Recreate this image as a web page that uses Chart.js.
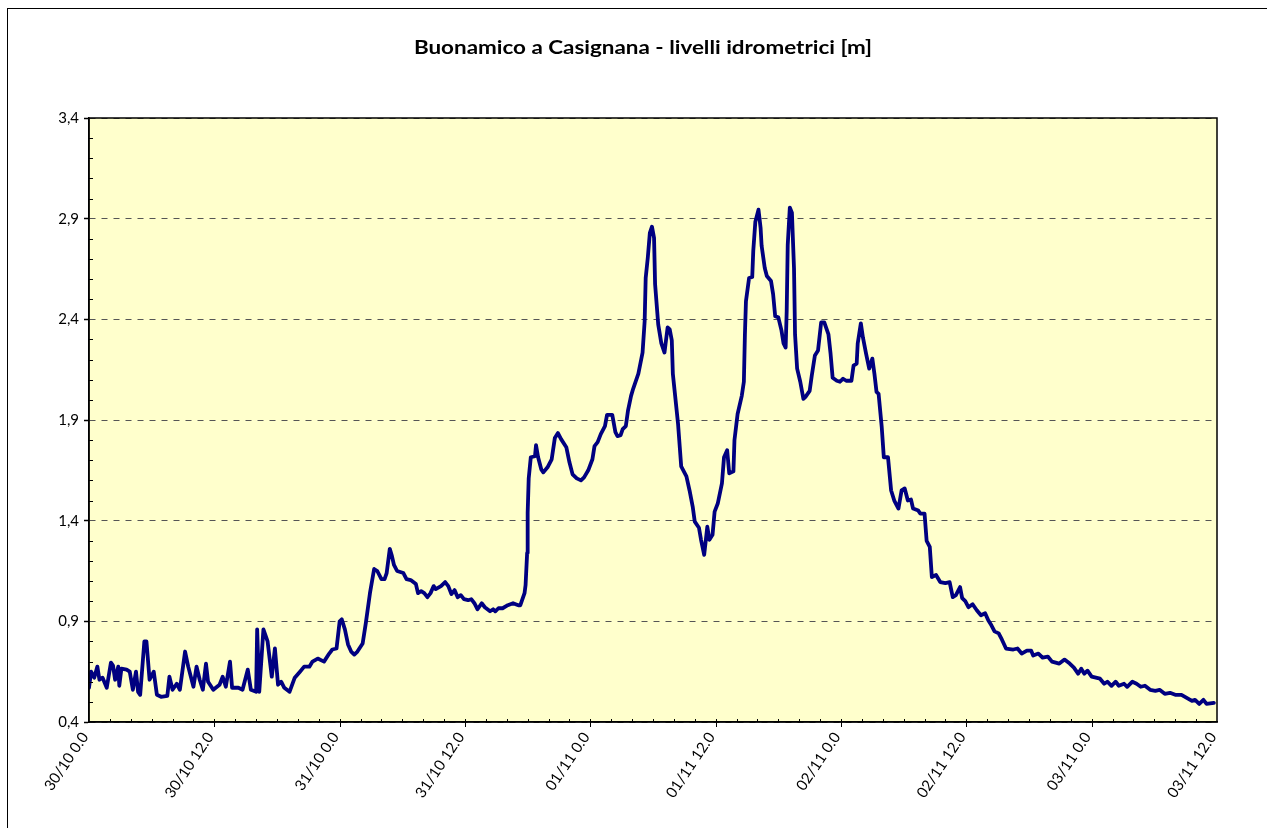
<!DOCTYPE html>
<html>
<head>
<meta charset="utf-8">
<title>Buonamico a Casignana</title>
<script src="https://cdn.jsdelivr.net/npm/chart.js@4"></script>
<style>
  html, body { margin: 0; padding: 0; background: #fff; }
  #levelChart { display: block; }
</style>
</head>
<body>
<canvas id="levelChart" width="1267" height="828"></canvas>
<script>
const chartTitle = "Buonamico a Casignana - livelli idrometrici [m]";

// one label every 12 hours, starting 30/10 at midnight
const tickLabels = [
  "30/10 0.0", "30/10 12.0", "31/10 0.0", "31/10 12.0", "01/11 0.0",
  "01/11 12.0", "02/11 0.0", "02/11 12.0", "03/11 0.0", "03/11 12.0"
];

// hours since 30/10 00:00
const hours = [
  0.0, 0.2, 0.5, 0.8, 1.0, 1.3, 1.7, 2.1, 2.3, 2.5, 2.8, 2.9, 3.1, 3.6, 3.9,
  4.2, 4.5, 4.7, 4.9, 5.3, 5.5, 5.8, 6.2, 6.5, 6.9, 7.5, 7.7, 8.0, 8.4, 8.7,
  9.2, 9.5, 10.0, 10.3, 10.6, 10.9, 11.2, 11.4, 11.9, 12.5, 12.8, 13.1, 13.5, 13.7, 14.3,
  14.7, 15.2, 15.5, 16.0, 16.1, 16.3, 16.7, 17.1, 17.5, 17.8, 18.1, 18.4, 18.7, 19.2, 19.7,
  20.2, 20.6, 21.1, 21.4, 21.9, 22.5, 23.0, 23.3, 23.7, 24.0, 24.2, 24.5, 24.8, 25.1, 25.4,
  25.7, 26.2, 26.5, 26.9, 27.3, 27.6, 28.0, 28.3, 28.5, 28.8, 29.0, 29.2, 29.5, 30.1, 30.4,
  30.8, 31.3, 31.5, 31.8, 32.1, 32.4, 32.7, 33.0, 33.2, 33.7, 34.1, 34.4, 34.7, 35.0, 35.3,
  35.6, 35.9, 36.3, 36.6, 36.9, 37.2, 37.6, 37.9, 38.4, 38.7, 38.9, 39.2, 39.6, 40.1, 40.6,
  41.1, 41.3, 41.7, 41.8, 41.95, 42.0, 42.1, 42.3, 42.7, 42.8, 43.0, 43.3, 43.5, 43.9, 44.3,
  44.6, 44.9, 45.2, 45.7, 46.0, 46.3, 46.7, 47.1, 47.4, 47.8, 48.2, 48.4, 48.7, 49.0, 49.4,
  49.6, 50.1, 50.4, 50.6, 50.9, 51.1, 51.4, 51.6, 51.9, 52.1, 52.6, 53.0, 53.2, 53.3, 53.5,
  53.7, 53.9, 54.1, 54.2, 54.5, 54.8, 55.1, 55.4, 55.6, 55.8, 55.9, 56.4, 56.7, 57.2, 57.5,
  57.8, 58.0, 58.4, 58.6, 58.9, 59.2, 59.4, 59.7, 59.9, 60.2, 60.6, 60.8, 61.1, 61.3, 61.7,
  61.8, 62.1, 62.5, 62.7, 62.8, 62.9, 63.2, 63.5, 63.6, 63.8, 64.1, 64.3, 64.4, 64.7, 64.9,
  65.3, 65.5, 65.7, 66.0, 66.3, 66.5, 66.7, 66.8, 66.9, 67.1, 67.3, 67.5, 67.6, 67.8, 68.1,
  68.4, 68.6, 69.0, 69.2, 69.5, 69.8, 70.1, 70.4, 70.8, 71.0, 71.2, 71.6, 71.9, 72.2, 72.5,
  73.0, 73.2, 73.5, 73.6, 73.9, 74.1, 74.4, 74.7, 75.0, 75.2, 75.4, 75.6, 75.9, 76.1, 76.5,
  76.8, 77.1, 77.5, 77.8, 78.1, 78.4, 78.7, 78.9, 79.4, 79.6, 80.0, 80.2, 80.5, 80.7, 81.1,
  81.5, 82.0, 82.4, 82.7, 83.0, 83.4, 83.6, 83.9, 84.2, 84.6, 85.0, 85.4, 85.8, 86.1, 86.4,
  86.7, 87.1, 87.4, 87.8, 88.5, 88.9, 89.3, 89.8, 90.2, 90.4, 90.9, 91.3, 91.8, 92.2, 92.9,
  93.4, 93.9, 94.3, 94.7, 95.0, 95.3, 95.6, 96.0, 96.8, 97.2, 97.5, 97.9, 98.3, 98.6, 99.1,
  99.4, 99.9, 100.3, 100.7, 101.1, 101.6, 102.1, 102.5, 103.0, 103.5, 104.0, 104.6, 105.1, 105.6, 105.9,
  106.3, 106.7, 107.0, 107.7
];

// water level [m]
const levels = [
  0.57, 0.65, 0.62, 0.675, 0.61, 0.62, 0.57, 0.695, 0.68, 0.61, 0.675, 0.58, 0.665, 0.66, 0.65,
  0.56, 0.65, 0.55, 0.535, 0.80, 0.80, 0.61, 0.65, 0.535, 0.525, 0.53, 0.625, 0.56, 0.59, 0.56,
  0.75, 0.675, 0.575, 0.675, 0.61, 0.56, 0.69, 0.60, 0.56, 0.585, 0.625, 0.575, 0.70, 0.57, 0.57,
  0.56, 0.66, 0.56, 0.55, 0.86, 0.55, 0.86, 0.80, 0.625, 0.765, 0.585, 0.60, 0.57, 0.55, 0.62,
  0.65, 0.675, 0.675, 0.70, 0.715, 0.70, 0.74, 0.76, 0.765, 0.90, 0.91, 0.86, 0.785, 0.75, 0.735,
  0.75, 0.79, 0.89, 1.04, 1.16, 1.15, 1.11, 1.11, 1.14, 1.26, 1.225, 1.18, 1.15, 1.14, 1.11,
  1.105, 1.085, 1.04, 1.05, 1.04, 1.02, 1.04, 1.075, 1.06, 1.075, 1.095, 1.075, 1.035, 1.055, 1.02,
  1.03, 1.01, 1.005, 1.01, 0.99, 0.96, 0.99, 0.97, 0.95, 0.96, 0.95, 0.965, 0.965, 0.98, 0.99,
  0.98, 0.98, 1.04, 1.08, 1.24, 1.44, 1.61, 1.715, 1.72, 1.775, 1.715, 1.655, 1.64, 1.665, 1.705,
  1.81, 1.835, 1.805, 1.765, 1.69, 1.63, 1.61, 1.60, 1.615, 1.65, 1.705, 1.77, 1.79, 1.83, 1.87,
  1.925, 1.925, 1.84, 1.82, 1.825, 1.855, 1.87, 1.945, 2.02, 2.055, 2.13, 2.235, 2.39, 2.605, 2.705,
  2.83, 2.86, 2.805, 2.575, 2.375, 2.28, 2.235, 2.36, 2.35, 2.295, 2.13, 1.88, 1.67, 1.62, 1.55,
  1.47, 1.395, 1.365, 1.305, 1.23, 1.37, 1.305, 1.33, 1.445, 1.485, 1.585, 1.715, 1.75, 1.635, 1.645,
  1.80, 1.93, 2.02, 2.09, 2.325, 2.49, 2.605, 2.61, 2.74, 2.885, 2.945, 2.855, 2.765, 2.655, 2.615,
  2.59, 2.525, 2.415, 2.41, 2.345, 2.28, 2.26, 2.44, 2.77, 2.955, 2.93, 2.655, 2.325, 2.155, 2.09,
  2.005, 2.015, 2.045, 2.12, 2.22, 2.245, 2.385, 2.385, 2.325, 2.23, 2.11, 2.095, 2.09, 2.105, 2.095,
  2.095, 2.17, 2.18, 2.28, 2.38, 2.31, 2.23, 2.155, 2.205, 2.13, 2.04, 2.03, 1.865, 1.715, 1.715,
  1.55, 1.50, 1.46, 1.55, 1.56, 1.50, 1.505, 1.46, 1.45, 1.435, 1.435, 1.30, 1.27, 1.12, 1.13,
  1.095, 1.09, 1.095, 1.02, 1.03, 1.07, 1.015, 1.00, 0.97, 0.985, 0.955, 0.93, 0.94, 0.905, 0.88,
  0.85, 0.84, 0.81, 0.765, 0.76, 0.765, 0.74, 0.755, 0.755, 0.73, 0.74, 0.72, 0.725, 0.70, 0.69,
  0.71, 0.69, 0.67, 0.64, 0.665, 0.64, 0.655, 0.625, 0.615, 0.59, 0.60, 0.58, 0.60, 0.58, 0.59,
  0.575, 0.60, 0.59, 0.575, 0.58, 0.56, 0.555, 0.56, 0.54, 0.545, 0.535, 0.535, 0.52, 0.505, 0.51,
  0.49, 0.51, 0.49, 0.495
];

const fontFamily = "Lato, 'Open Sans', sans-serif";

// yellow plot background, frame, minor ticks and the title
const framePlugin = {
  id: 'frame',
  beforeDraw(chart) {
    const { ctx, chartArea: a } = chart;
    ctx.save();
    ctx.fillStyle = '#fff';
    ctx.fillRect(0, 0, chart.width, chart.height);
    ctx.fillStyle = '#ffffcc';
    ctx.fillRect(a.left, a.top, a.right - a.left, a.bottom - a.top);
    ctx.restore();
  },
  afterDraw(chart) {
    const { ctx, chartArea: a, scales: { x, y } } = chart;
    ctx.save();
    ctx.strokeStyle = '#000';
    ctx.lineWidth = 1;
    ctx.strokeRect(7.5, 8.5, chart.width + 20, chart.height + 20);

    ctx.lineWidth = 1.5;
    ctx.strokeRect(a.left, a.top, a.right - a.left, a.bottom - a.top);

    ctx.lineWidth = 1;
    ctx.beginPath();
    for (let i = 5; i < 34; i++) {
      if ((i - 4) % 5 === 0) continue;
      const py = Math.round(y.getPixelForValue(i / 10)) + 0.5;
      ctx.moveTo(a.left, py);
      ctx.lineTo(a.left + 4, py);
    }
    for (let h = 2; h < 108; h += 2) {
      const px = Math.round(x.getPixelForValue(h)) + 0.5;
      if (h % 12 === 0) {
        ctx.moveTo(px, a.bottom - 3);
        ctx.lineTo(px, a.bottom + 5);
      } else {
        ctx.moveTo(px, a.bottom - 3);
        ctx.lineTo(px, a.bottom);
      }
    }
    ctx.stroke();

    // title, slightly widened
    ctx.fillStyle = '#000';
    ctx.font = "bold 19px " + fontFamily;
    ctx.textAlign = 'center';
    ctx.textBaseline = 'middle';
    ctx.translate((a.left + a.right) / 2 - 10, 48);
    ctx.scale(1.18, 1);
    ctx.fillText(chartTitle, 0, 0);
    ctx.restore();
  }
};

new Chart(document.getElementById('levelChart'), {
  type: 'line',
  data: {
    datasets: [{
      label: 'livello',
      data: hours.map((h, i) => ({ x: h, y: levels[i] })),
      borderColor: '#000080',
      borderWidth: 3.8,
      borderJoinStyle: 'round',
      borderCapStyle: 'round',
      pointRadius: 0,
      tension: 0,
      fill: false
    }]
  },
  options: {
    responsive: false,
    animation: false,
    devicePixelRatio: 1,
    layout: { padding: { left: 0, right: 50, top: 118, bottom: 0 } },
    plugins: {
      legend: { display: false },
      tooltip: { enabled: false },
      title: { display: false }
    },
    scales: {
      x: {
        type: 'linear',
        min: 0,
        max: 108,
        afterFit: (s) => { s.height = 106; },
        grid: { display: false, drawTicks: false },
        border: { display: true, color: '#000', width: 1.5 },
        ticks: {
          stepSize: 12,
          autoSkip: false,
          minRotation: 56,
          maxRotation: 56,
          padding: 7,
          labelOffset: -4,
          color: '#000',
          font: { family: fontFamily, size: 15 },
          callback: (v) => tickLabels[Math.round(v / 12)]
        }
      },
      y: {
        min: 0.4,
        max: 3.4,
        afterFit: (s) => { s.width = 89; },
        grid: {
          color: '#555',
          lineWidth: 1,
          tickColor: '#000',
          tickLength: 5,
          tickWidth: 1.5
        },
        border: { display: true, color: '#000', width: 1.5, dash: [6, 6] },
        ticks: {
          stepSize: 0.5,
          padding: 5,
          color: '#000',
          font: { family: fontFamily, size: 15 },
          callback: (v) => v.toFixed(1).replace('.', ',')
        }
      }
    }
  },
  plugins: [framePlugin]
});
</script>
</body>
</html>
